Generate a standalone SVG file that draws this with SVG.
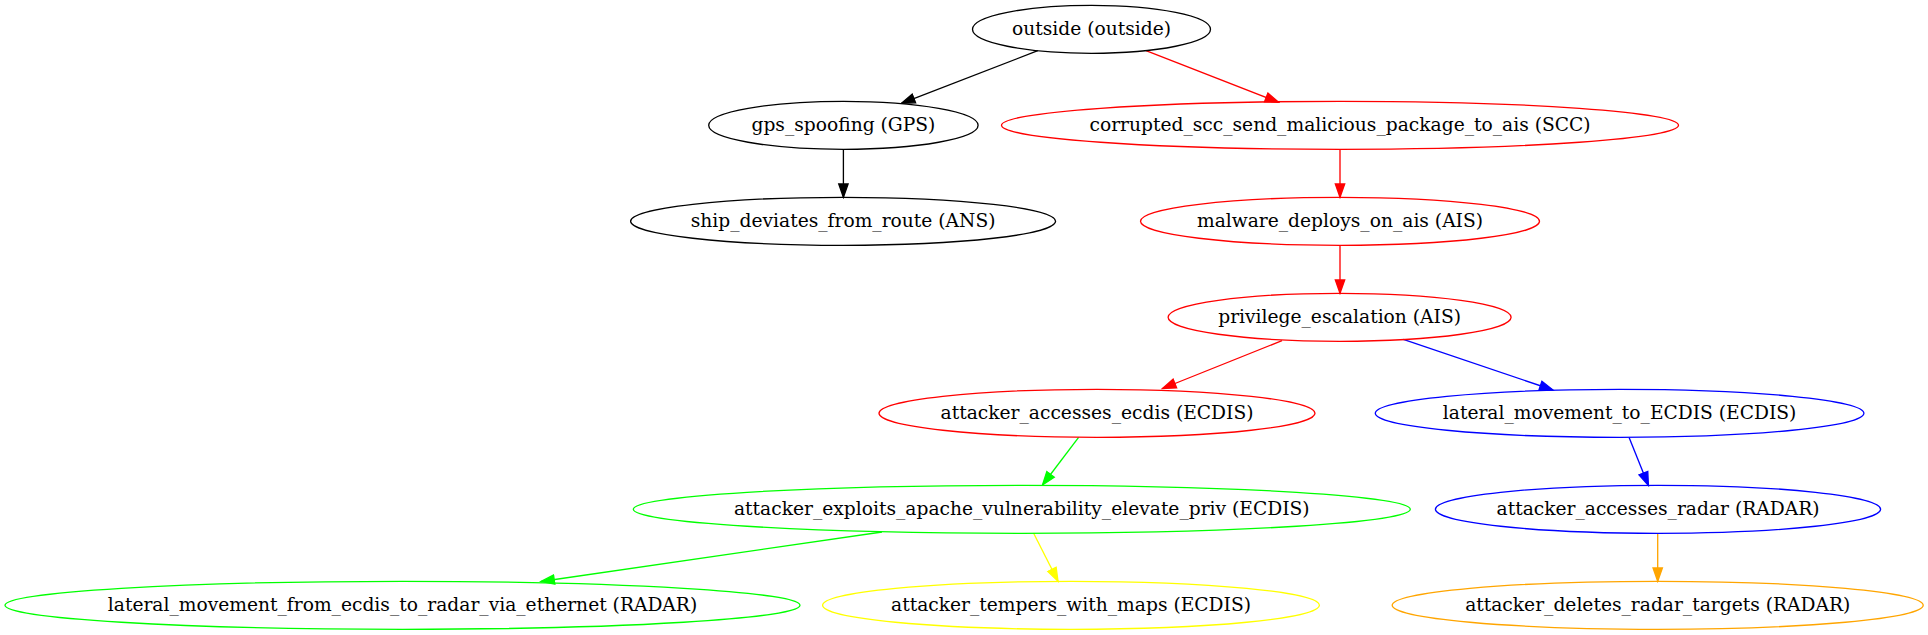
<svg xmlns="http://www.w3.org/2000/svg" width="1928" height="635" viewBox="0 0 1928 635">
<style>
  .n ellipse { fill: none; stroke-width: 1.33; }
  .n text { font-family: "DejaVu Serif", "Liberation Serif", serif; font-size: 18.67px; text-anchor: middle; fill: #000; }
  .e line { stroke-width: 1.33; fill: none; }
  .k { stroke: #000000; } .r { stroke: #ff0000; } .b { stroke: #0000ff; } .g { stroke: #00ff00; } .y { stroke: #ffff00; } .o { stroke: #ffa500; }
</style>
<defs>
  <marker id="ak" markerUnits="userSpaceOnUse" markerWidth="16" markerHeight="12" refX="13.33" refY="0" viewBox="-1 -6 16 12" orient="auto"><path d="M0,-4.67 L13.33,0 L0,4.67 Z" fill="#000000" stroke="#000000" stroke-width="1.33"/></marker>
  <marker id="ar" markerUnits="userSpaceOnUse" markerWidth="16" markerHeight="12" refX="13.33" refY="0" viewBox="-1 -6 16 12" orient="auto"><path d="M0,-4.67 L13.33,0 L0,4.67 Z" fill="#ff0000" stroke="#ff0000" stroke-width="1.33"/></marker>
  <marker id="ab" markerUnits="userSpaceOnUse" markerWidth="16" markerHeight="12" refX="13.33" refY="0" viewBox="-1 -6 16 12" orient="auto"><path d="M0,-4.67 L13.33,0 L0,4.67 Z" fill="#0000ff" stroke="#0000ff" stroke-width="1.33"/></marker>
  <marker id="ag" markerUnits="userSpaceOnUse" markerWidth="16" markerHeight="12" refX="13.33" refY="0" viewBox="-1 -6 16 12" orient="auto"><path d="M0,-4.67 L13.33,0 L0,4.67 Z" fill="#00ff00" stroke="#00ff00" stroke-width="1.33"/></marker>
  <marker id="ay" markerUnits="userSpaceOnUse" markerWidth="16" markerHeight="12" refX="13.33" refY="0" viewBox="-1 -6 16 12" orient="auto"><path d="M0,-4.67 L13.33,0 L0,4.67 Z" fill="#ffff00" stroke="#ffff00" stroke-width="1.33"/></marker>
  <marker id="ao" markerUnits="userSpaceOnUse" markerWidth="16" markerHeight="12" refX="13.33" refY="0" viewBox="-1 -6 16 12" orient="auto"><path d="M0,-4.67 L13.33,0 L0,4.67 Z" fill="#ffa500" stroke="#ffa500" stroke-width="1.33"/></marker>
</defs>
<rect width="1928" height="635" fill="#ffffff"/>
<g id="edges" class="e">
  <line class="k" x1="1037.8" y1="50.7" x2="901.5" y2="103.3" marker-end="url(#ak)"/>
  <line class="r" x1="1146" y1="50.7" x2="1278.6" y2="102.3" marker-end="url(#ar)"/>
  <line class="k" x1="843.4" y1="149.3" x2="843.4" y2="197.3" marker-end="url(#ak)"/>
  <line class="r" x1="1340" y1="149.3" x2="1340" y2="197.3" marker-end="url(#ar)"/>
  <line class="r" x1="1340" y1="245.3" x2="1340" y2="293.3" marker-end="url(#ar)"/>
  <line class="r" x1="1282" y1="340.6" x2="1162.5" y2="388.5" marker-end="url(#ar)"/>
  <line class="b" x1="1403.3" y1="339.3" x2="1553" y2="390" marker-end="url(#ab)"/>
  <line class="g" x1="1078.6" y1="437.3" x2="1042.5" y2="485" marker-end="url(#ag)"/>
  <line class="b" x1="1629.2" y1="437.7" x2="1648.4" y2="485.5" marker-end="url(#ab)"/>
  <line class="g" x1="882" y1="532" x2="541" y2="581.5" marker-end="url(#ag)"/>
  <line class="y" x1="1033.5" y1="533" x2="1058" y2="581.3" marker-end="url(#ay)"/>
  <line class="o" x1="1657.7" y1="533.3" x2="1657.7" y2="581.3" marker-end="url(#ao)"/>
</g>
<g id="outside" class="n"><ellipse class="k" cx="1091.5" cy="29.3" rx="119" ry="24"/><text x="1091.5" y="35.2">outside (outside)</text></g>
<g id="gps_spoofing" class="n"><ellipse class="k" cx="843.4" cy="125.3" rx="134.7" ry="24"/><text x="843.4" y="131.2">gps_spoofing (GPS)</text></g>
<g id="corrupted_scc_send_malicious_package_to_ais" class="n"><ellipse class="r" cx="1340" cy="125.3" rx="338.5" ry="24"/><text x="1340" y="131.2">corrupted_scc_send_malicious_package_to_ais (SCC)</text></g>
<g id="ship_deviates_from_route" class="n"><ellipse class="k" cx="843.1" cy="221.3" rx="212.5" ry="24"/><text x="843.1" y="227.2">ship_deviates_from_route (ANS)</text></g>
<g id="malware_deploys_on_ais" class="n"><ellipse class="r" cx="1340" cy="221.3" rx="199.5" ry="24"/><text x="1340" y="227.2">malware_deploys_on_ais (AIS)</text></g>
<g id="privilege_escalation" class="n"><ellipse class="r" cx="1339.6" cy="317.3" rx="171.5" ry="24"/><text x="1339.6" y="323.2">privilege_escalation (AIS)</text></g>
<g id="attacker_accesses_ecdis" class="n"><ellipse class="r" cx="1097" cy="413.3" rx="218" ry="24"/><text x="1097" y="419.2">attacker_accesses_ecdis (ECDIS)</text></g>
<g id="lateral_movement_to_ECDIS" class="n"><ellipse class="b" cx="1619.6" cy="413.3" rx="244.3" ry="24"/><text x="1619.6" y="419.2">lateral_movement_to_ECDIS (ECDIS)</text></g>
<g id="attacker_exploits_apache_vulnerability_elevate_priv" class="n"><ellipse class="g" cx="1021.8" cy="509.3" rx="388.5" ry="24"/><text x="1021.8" y="515.2">attacker_exploits_apache_vulnerability_elevate_priv (ECDIS)</text></g>
<g id="attacker_accesses_radar" class="n"><ellipse class="b" cx="1658" cy="509.3" rx="222.6" ry="24"/><text x="1658" y="515.2">attacker_accesses_radar (RADAR)</text></g>
<g id="lateral_movement_from_ecdis_to_radar_via_ethernet" class="n"><ellipse class="g" cx="402.5" cy="605.3" rx="397.5" ry="24"/><text x="402.5" y="611.2">lateral_movement_from_ecdis_to_radar_via_ethernet (RADAR)</text></g>
<g id="attacker_tempers_with_maps" class="n"><ellipse class="y" cx="1071" cy="605.3" rx="248.4" ry="24"/><text x="1071" y="611.2">attacker_tempers_with_maps (ECDIS)</text></g>
<g id="attacker_deletes_radar_targets" class="n"><ellipse class="o" cx="1657.7" cy="605.3" rx="265.5" ry="24"/><text x="1657.7" y="611.2">attacker_deletes_radar_targets (RADAR)</text></g>
</svg>
